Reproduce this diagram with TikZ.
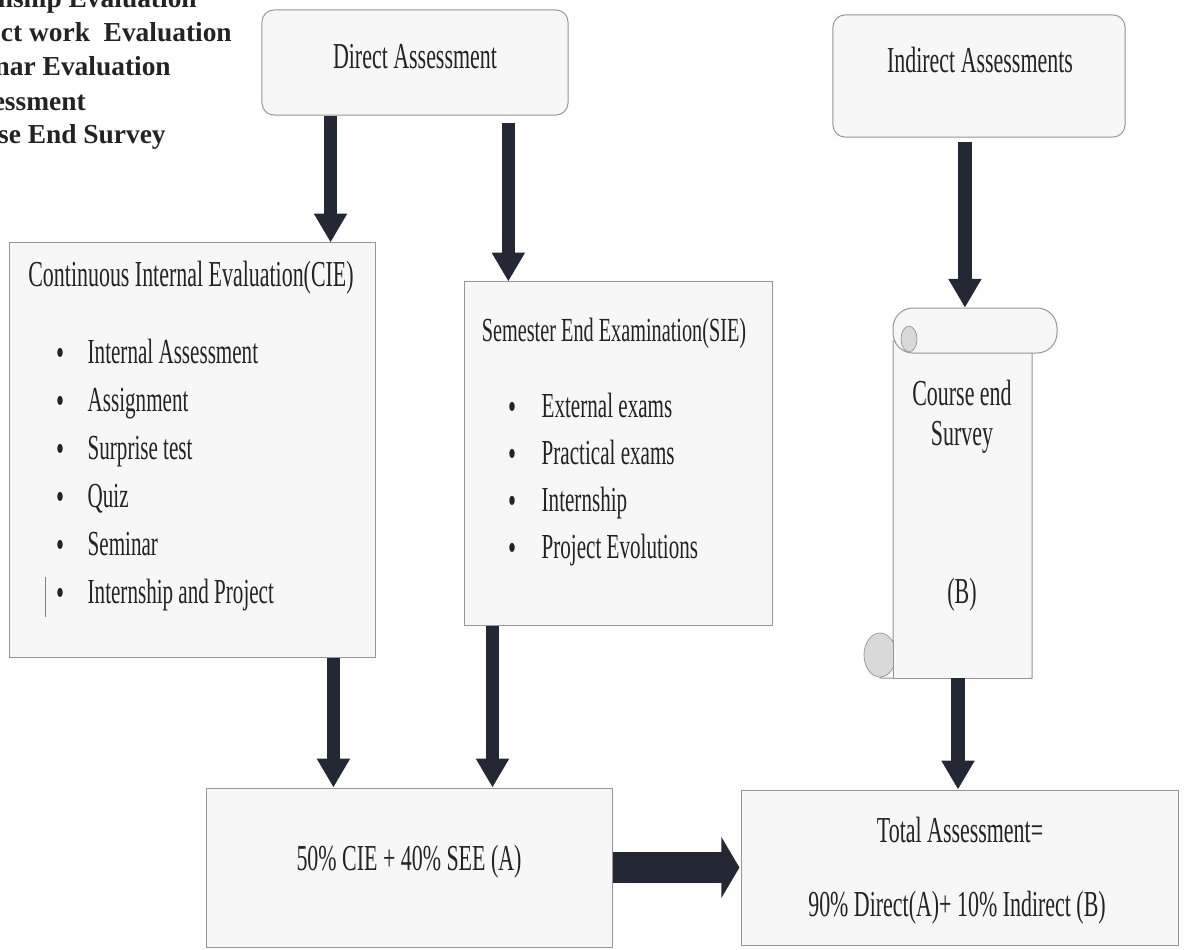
\documentclass[tikz,border=0pt]{standalone}
\usepackage{fontspec}
\setmainfont{Liberation Serif}
\newfontfamily\narrowserif{Liberation Serif}[FakeStretch=0.6]
\usetikzlibrary{arrows.meta,calc,positioning}
\definecolor{arrowink}{RGB}{36,40,52}
\definecolor{boxline}{RGB}{150,150,150}
\definecolor{boxfill}{RGB}{247,247,247}
\definecolor{inkgray}{RGB}{35,35,35}
\tikzset{
  box/.style={draw=boxline, fill=boxfill, line width=0.7pt, inner sep=0pt},
  roundbox/.style={box, rounded corners=0.3cm},
  label/.style={text=inkgray, font=\narrowserif\fontsize{26}{30}\selectfont, inner sep=1pt},
  itemtext/.style={label, anchor=base west, font=\narrowserif\fontsize{25}{30}\selectfont},
  dot/.style={label, anchor=base, font=\narrowserif\fontsize{27}{30}\selectfont},
  lefttext/.style={anchor=base east, text=inkgray, inner sep=0pt, font=\bfseries\fontsize{19.5}{22}\selectfont},
  flow/.style={draw=arrowink, line width=0.33cm, -{Triangle[length=0.72cm,width=0.78cm]}},
  fatflow/.style={draw=arrowink, line width=0.78cm, -{Triangle[length=0.45cm,width=1.5cm]}}
}
\begin{document}
\begin{tikzpicture}[x=0.025cm, y=-0.025cm]
   \useasboundingbox (0,0) rectangle (1184,949);
   \fill[white] (0,0) rectangle (1184,949);
   \clip (0,0) rectangle (1184,949);

   % cut off text, top left
   \node[lefttext] (l1) at (197,7)   {nship Evaluation};
   \node[lefttext] (l2) at (232,41)  {ct work~~Evaluation};
   \node[lefttext] (l3) at (171,75)  {nar Evaluation};
   \node[lefttext] (l4) at (86,110)  {essment};
   \node[lefttext] (l5) at (166,143) {se End Survey};

   % boxes
   \node[roundbox, minimum width=7.65cm, minimum height=2.625cm] (direct) at (415,62.5) {};
   \node[roundbox, minimum width=7.3cm, minimum height=3.05cm] (indirect) at (979,76) {};
   \node[box, minimum width=9.125cm, minimum height=10.35cm] (cie) at (192.5,450) {};
   \node[box, minimum width=7.675cm, minimum height=8.575cm] (sie) at (618.5,453.5) {};
   \node[box, minimum width=10.125cm, minimum height=3.975cm] (partA) at (409.5,867.5) {};
   \node[box, minimum width=10.9cm, minimum height=3.875cm] (total) at (960,867.5) {};
   \node[minimum width=3.55cm, minimum height=9.25cm, inner sep=0pt] (survey) at (961,493) {};

   % scroll
   \draw[boxline, fill=boxfill, line width=0.7pt]
      (893,340) -- (893,640) -- (880,678) -- (1032,678) -- (1032,350);
   \draw[boxline, fill=boxfill, line width=0.7pt, rounded corners=0.5cm]
      (893,308) rectangle (1057,353);
   \draw[boxline, fill=gray!30, line width=0.5pt]
      (909,339) ellipse (0.2cm and 0.32cm);
   \draw[boxline, fill=gray!30, line width=0.5pt]
      (880,655) ellipse (0.4cm and 0.55cm);
   \draw[boxline, fill=boxfill, line width=0.7pt]
      (893,640) -- (893,678) -- (1032,678);

   % texts
   \node[label] (tdirect) at (415,57) {Direct Assessment};
   \node[label] (tindirect) at (980,60) {Indirect Assessments};
   \node[label] (tcie) at (191,278) {Continuous Internal Evaluation(CIE)};
   \node[label, font=\narrowserif\fontsize{24}{28}\selectfont] (tsie) at (614,333) {Semester End Examination(SIE)};
   \foreach \txt [count=\i] in {Internal Assessment, Assignment, Surprise test, Quiz, Seminar, Internship and Project}
      {
      \node[dot] (cieb\i) at (60,{365+48*(\i-1)}) {\textbullet};
      \node[itemtext] (ciet\i) at (86,{363+48*(\i-1)}) {\txt};
      }
   \foreach \txt [count=\i] in {External exams, Practical exams, Internship, Project Evolutions}
      {
      \node[dot] (sieb\i) at (512,{419+47*(\i-1)}) {\textbullet};
      \node[itemtext] (siet\i) at (540,{417+47*(\i-1)}) {\txt};
      }
   \draw[gray, line width=0.5pt] (45,577) -- (45,617);
   \node[label] (tcourse) at (962,393) {Course end};
   \node[label] (tsurvey) at (962,437) {Survey};
   \node[label] (tb) at (962,595) {(B)};
   \node[label] (tparta) at (409,862) {50\% CIE + 40\% SEE (A)};
   \node[label] (ttotal1) at (960,830) {Total Assessment=};
   \node[label] (ttotal2) at (957,908) {90\% Direct(A)+ 10\% Indirect (B)};

   % arrows
   \coordinate (d1) at ($(direct.south west)!0.225!(direct.south east)$);
   \coordinate (d2) at ($(direct.south west)!0.804!(direct.south east)$);
   \coordinate (i1) at ($(indirect.south west)!0.452!(indirect.south east)$);
   \coordinate (c1) at ($(cie.south west)!0.885!(cie.south east)$);
   \coordinate (s1) at ($(sie.south west)!0.091!(sie.south east)$);
   \coordinate (v1) at ($(survey.south west)!0.479!(survey.south east)$);
   \draw[flow] (d1) -- (d1 |- cie.north);
   \draw[flow, shorten <=0.18cm] (d2) -- (d2 |- sie.north);
   \draw[flow, shorten <=0.12cm] (i1) -- (i1 |- survey.north);
   \draw[flow] (c1) -- (c1 |- partA.north);
   \draw[flow] (s1) -- (s1 |- partA.north);
   \draw[flow] (v1) -- (v1 |- total.north);
   \draw[fatflow] (partA.east) -- ([xshift=-0.05cm]total.west);
\end{tikzpicture}
\end{document}
